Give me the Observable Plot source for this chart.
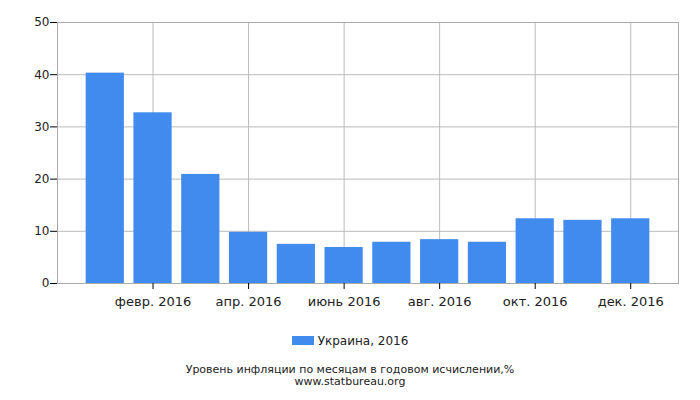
<!DOCTYPE html>
<html>
<head>
<meta charset="utf-8">
<script src="https://cdn.jsdelivr.net/npm/d3@7"></script>
<script src="https://cdn.jsdelivr.net/npm/@observablehq/plot@0.6"></script>
<style>
  body { margin: 0; background: #fff; font-family: "DejaVu Sans", sans-serif; }
  #wrap { position: relative; width: 700px; height: 400px; }
  #chart { position: absolute; left: 0; top: 0; }
  #legend { position: absolute; left: 0; top: 334px; width: 700px; text-align: center; font-size: 12px; color: #222; }
  #legend .sw { display: inline-block; width: 22px; height: 9px; background: #418BEE; vertical-align: 0px; margin-right: 4px; }
  #caption { position: absolute; left: 0; top: 364px; width: 700px; text-align: center; font-size: 11px; line-height: 12px; color: #222; }
</style>
</head>
<body>
<div id="wrap">
  <div id="chart"></div>
  <div id="legend"><span class="sw"></span>Украина, 2016</div>
  <div id="caption">Уровень инфляции по месяцам в годовом исчислении,%<br>www.statbureau.org</div>
</div>
<script>
const months = ["янв. 2016","февр. 2016","март 2016","апр. 2016","май 2016","июнь 2016","июль 2016","авг. 2016","сент. 2016","окт. 2016","нояб. 2016","дек. 2016"];
const values = [40.3, 32.7, 20.9, 9.8, 7.5, 6.9, 7.9, 8.4, 7.9, 12.4, 12.1, 12.4];
const xTickLabels = ["февр. 2016","апр. 2016","июнь 2016","авг. 2016","окт. 2016","дек. 2016"];
const yTicks = [0, 10, 20, 30, 40, 50];

const data = months.map((m, i) => ({month: m, value: values[i]}));

const chart = Plot.plot({
  width: 700,
  height: 310,
  marginTop: 22,
  marginLeft: 57,
  marginRight: 22,
  marginBottom: 27,
  x: {type: "band", domain: months, paddingInner: 0.2, paddingOuter: 0.6, align: 0.5, round: false},
  y: {domain: [0, 50]},
  style: {fontFamily: "DejaVu Sans", fontSize: "12px", color: "#222", background: "#fff"},
  marks: [
    Plot.gridY(yTicks, {stroke: "#bbb", strokeOpacity: 1}),
    Plot.gridX(xTickLabels, {stroke: "#bbb", strokeOpacity: 1}),
    Plot.barY(data, {x: "month", y: "value", fill: "#418BEE"}),
    Plot.frame({stroke: "#aaa"}),
    Plot.axisY(yTicks, {tickSize: 7, tickPadding: 1, stroke: "#000", fontSize: 12, label: null}),
    Plot.axisX(xTickLabels, {tickSize: 6, tickPadding: 7, stroke: "#000", fontSize: 13, label: null})
  ]
});
document.getElementById("chart").appendChild(chart);
</script>
</body>
</html>
